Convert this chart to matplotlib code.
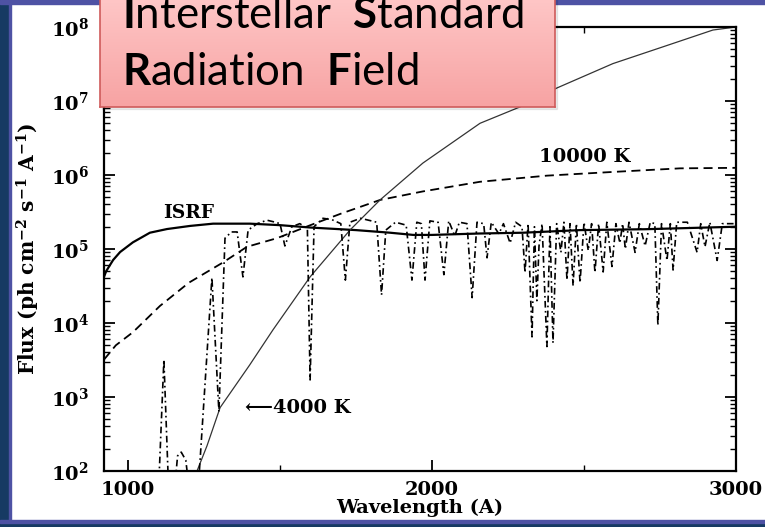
import matplotlib
matplotlib.use("Agg")
import matplotlib.pyplot as plt
import numpy as np
from matplotlib.colors import LinearSegmentedColormap
from matplotlib.patches import Rectangle
from matplotlib.ticker import LogLocator, NullFormatter

# ISRF (solid)
isrf_wl = [921, 928, 941, 951, 974, 1016, 1072, 1128, 1204, 1280, 1401, 1500, 1600,
           1750, 1862, 1938, 2000, 2158, 2300, 2487, 2700, 3000]
isrf_flux = [4.2e4, 5.0e4, 6.1e4, 7.1e4, 9.1e4, 1.23e5, 1.66e5, 1.86e5, 2.05e5, 2.2e5,
             2.2e5, 2.1e5, 1.95e5, 1.8e5, 1.66e5, 1.55e5, 1.55e5, 1.62e5, 1.66e5,
             1.8e5, 1.85e5, 2.0e5]

# 10000 K blackbody (dashed)
bb10k_wl = [921, 960, 1016, 1105, 1200, 1313, 1391, 1490, 1543, 1600, 1700, 1829,
            1970, 2158, 2378, 2595, 2816, 3000]
bb10k_flux = [3.2e3, 5.0e3, 7.5e3, 1.7e4, 3.5e4, 6.6e4, 1.07e5, 1.4e5, 1.7e5, 2.1e5,
              3.0e5, 4.6e5, 6.0e5, 8.1e5, 9.8e5, 1.1e6, 1.23e6, 1.25e6]

# 4000 K blackbody (thin)
bb4k_wl = [1227, 1260, 1303, 1400, 1477, 1599, 1730, 1829, 1970, 2158, 2289, 2411,
           2595, 2760, 2924, 3000]
bb4k_flux = [1.0e2, 2.2e2, 7.2e2, 2.7e3, 8.1e3, 4.2e4, 1.8e5, 4.6e5, 1.45e6, 5.0e6,
             8.3e6, 1.5e7, 3.2e7, 5.4e7, 9.1e7, 1.0e8]

# stellar spectrum (dash-dot), values below 1e2 sit off the axis
spec_wl = [1100, 1118, 1134, 1152, 1163, 1175, 1190, 1203, 1230, 1276, 1299, 1319,
           1340, 1359, 1378, 1395, 1425, 1457, 1485, 1500, 1516, 1539, 1565, 1590,
           1599, 1612, 1641, 1670, 1700, 1715, 1730, 1765, 1800, 1818, 1834, 1848,
           1880, 1915, 1934, 1950, 1965, 1977, 1993, 2020, 2039, 2055, 2075, 2090,
           2115, 2132, 2148, 2170, 2181, 2195, 2220, 2235, 2257, 2275, 2296, 2306,
           2316, 2329, 2337, 2345, 2352, 2362, 2378, 2388, 2398, 2410, 2424, 2434,
           2444, 2454, 2464, 2475, 2487, 2500, 2514, 2525, 2536, 2548, 2563, 2575,
           2592, 2605, 2618, 2627, 2636, 2648, 2668, 2682, 2701, 2718, 2733, 2743,
           2755, 2773, 2784, 2793, 2805, 2840, 2872, 2884, 2898, 2914, 2938, 2955,
           2995]
spec_flux = [50, 3.2e3, 50, 50, 1.6e2, 1.8e2, 1.4e2, 50, 50, 4.1e4, 6.3e2, 1.4e5,
             1.7e5, 1.7e5, 4.2e4, 1.8e5, 2.2e5, 2.45e5, 2.3e5, 2.2e5, 1.1e5, 2.0e5,
             2.2e5, 1.9e5, 1.7e3, 2.0e5, 2.6e5, 2.5e5, 2.2e5, 3.8e4, 2.3e5, 2.6e5,
             2.4e5, 2.3e5, 2.4e4, 1.8e5, 2.3e5, 2.1e5, 3.8e4, 2.3e5, 2.2e5, 3.8e4,
             2.4e5, 2.3e5, 4.5e4, 2.4e5, 1.5e5, 2.3e5, 2.2e5, 2.2e4, 2.3e5, 2.2e5,
             7.6e4, 2.3e5, 1.6e5, 2.2e5, 1.2e5, 2.3e5, 2.0e5, 4.8e4, 2.2e5, 6.5e3,
             2.0e5, 2.0e4, 1.1e5, 2.2e5, 4.8e3, 2.0e5, 5.4e3, 2.2e5, 9.0e4, 2.3e5,
             3.8e4, 2.2e5, 3.2e4, 2.2e5, 3.5e4, 2.3e5, 9.5e4, 2.2e5, 4.8e4, 2.2e5,
             4.9e4, 2.3e5, 5.8e4, 2.2e5, 1.2e5, 2.2e5, 1.0e5, 2.3e5, 9.0e4, 2.2e5,
             1.1e5, 2.3e5, 2.2e5, 9.3e3, 2.2e5, 7.0e4, 2.2e5, 5.2e4, 2.3e5, 2.3e5,
             9.0e4, 2.2e5, 1.07e5, 2.3e5, 7.0e4, 2.2e5, 2.2e5]

x_ticks = [1000, 2000, 3000]
x_minor = [1500, 2500]

plt.rcParams["font.family"] = ["DejaVu Serif", "DejaVu Sans"]
plt.rcParams["font.weight"] = "bold"
plt.rcParams["axes.labelweight"] = "bold"
plt.rcParams["mathtext.fontset"] = "custom"
plt.rcParams["mathtext.rm"] = "Lato"
plt.rcParams["mathtext.bf"] = "Lato:bold"

W, H = 765, 527
fig = plt.figure(figsize=(W / 100, H / 100), dpi=100)

# slide frame
navy, purple = "#163a63", "#4e52a4"
for (x0, y0, w, h, c) in [(0, 0, 9, H, navy), (9, 0, 2, H, purple),
                          (0, 0, W, 4, navy), (0, 4, W, 3, purple),
                          (0, H - 4, W, 4, purple)]:
    fig.patches.append(Rectangle((x0 / W, y0 / H), w / W, h / H, color=c,
                                 transform=fig.transFigure, zorder=1.5))

ax = fig.add_axes([104 / W, 1 - 471 / H, 632 / W, 444 / H])
ax.plot(isrf_wl, isrf_flux, color="black", lw=1.6)
ax.plot(bb10k_wl, bb10k_flux, color="black", lw=1.3, ls=(0, (5, 3)))
ax.plot(bb4k_wl, bb4k_flux, color="0.2", lw=0.9)
ax.plot(spec_wl, spec_flux, color="black", lw=1.2, ls=(0, (4, 2, 1, 2)))

ax.set_yscale("log")
ax.set_xlim(921, 3000)
ax.set_ylim(1e2, 1e8)
ax.set_xticks(x_ticks)
ax.set_xticks(x_minor, minor=True)
ax.yaxis.set_minor_locator(LogLocator(subs=np.arange(2, 10)))
ax.yaxis.set_minor_formatter(NullFormatter())
ax.tick_params(which="both", direction="in", top=True, right=True)
ax.tick_params(which="major", length=8, width=1.3, labelsize=14)
ax.tick_params(which="minor", length=4, width=1)
ax.tick_params(axis="x", pad=7)
ax.tick_params(axis="y", pad=11)
for s in ax.spines.values():
    s.set_linewidth(1.6)

ax.set_xlabel("Wavelength (A)", fontsize=14, labelpad=0)
ax.set_ylabel(r"Flux (ph cm$^{\mathdefault{-2}}$ s$^{\mathdefault{-1}}$ A$^{\mathdefault{-1}}$)",
              fontsize=14.5, labelpad=6)

ax.text(1201, 3.1e5, "ISRF", fontsize=13.5, ha="center", va="center")
ax.text(2503, 1.74e6, "10000 K", fontsize=14, ha="center", va="center")
ax.text(1385, 7.1e2, "\u27f54000 K", fontsize=14, ha="left", va="center")

# title callout box
fig.patches.append(Rectangle((102 / W, 1 - 109 / H), 455 / W, 120 / H, color="black",
                             alpha=0.08, transform=fig.transFigure, zorder=1.8))
box = fig.add_axes([100 / W, 1 - 107 / H, 455 / W, 120 / H])
box.set_zorder(2)
cmap = LinearSegmentedColormap.from_list("pink", ["#f7a3a3", "#ffcaca"])
box.imshow(np.linspace(0, 1, 100)[:, None], cmap=cmap, aspect="auto",
           origin="lower", extent=[0, 1, 0, 1])
box.set_xticks([])
box.set_yticks([])
for s in box.spines.values():
    s.set_color("#cf5b5b")
    s.set_linewidth(1.2)

fig.text(122 / W, 1 - 28 / H, r"$\mathbf{I}$nterstellar  $\mathbf{S}$tandard",
         fontfamily="Lato", fontweight="normal", fontsize=31.5, va="baseline", zorder=5)
fig.text(122 / W, 1 - 85 / H, r"$\mathbf{R}$adiation  $\mathbf{F}$ield",
         fontfamily="Lato", fontweight="normal", fontsize=31.5, va="baseline", zorder=5)

fig.savefig("out.png", dpi=100)
